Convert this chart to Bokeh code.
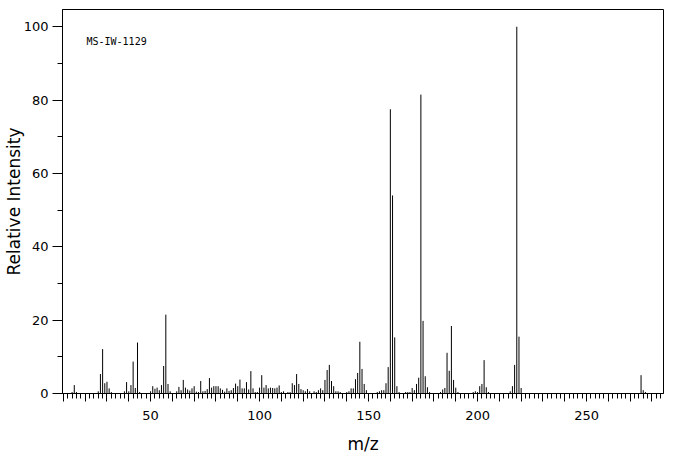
from bokeh.plotting import figure
from bokeh.models import Range1d, FixedTicker, CustomJSTickFormatter, Label
from bokeh.embed import file_html
from bokeh.resources import INLINE

mz = [14, 15, 16, 26, 27, 28, 29, 30, 31, 32, 38, 39, 40, 41, 42, 43, 44, 45,
      50, 51, 52, 53, 54, 55, 56, 57, 58, 59, 62, 63, 64, 65, 66, 67, 68, 69,
      70, 71, 72, 73, 74, 75, 76, 77, 78, 79, 80, 81, 82, 83, 84, 85, 86, 87,
      88, 89, 90, 91, 92, 93, 94, 95, 96, 97, 98, 99, 100, 101, 102, 103, 104,
      105, 106, 107, 108, 109, 110, 111, 113, 114, 115, 116, 117, 118, 119,
      120, 121, 122, 123, 125, 126, 127, 128, 129, 130, 131, 132, 133, 134,
      135, 136, 137, 140, 141, 142, 143, 144, 145, 146, 147, 148, 149, 154,
      155, 156, 157, 158, 159, 160, 161, 162, 163, 164, 167, 168, 169, 170,
      171, 172, 173, 174, 175, 176, 177, 178, 183, 184, 185, 186, 187, 188,
      189, 190, 191, 198, 199, 200, 201, 202, 203, 204, 205, 215, 216, 217,
      218, 219, 220, 275, 276, 277]
intensity = [0.4, 2.3, 0.4, 0.6, 5.3, 12.1, 2.8, 3.2, 1.4, 0.4, 0.6, 3.1, 0.6, 2.3, 8.7, 1.5, 13.9, 0.4,
             0.6, 2.0, 1.3, 1.6, 0.9, 2.3, 7.5, 21.5, 2.6, 0.6, 0.6, 1.8, 0.9, 3.7, 1.6, 1.1, 0.8, 1.4,
             2.0, 0.5, 0.4, 3.4, 0.6, 0.7, 1.2, 4.2, 1.6, 2.0, 2.0, 2.0, 1.4, 1.0, 0.5, 1.4, 0.7, 0.9,
             1.5, 2.7, 2.0, 3.8, 1.4, 1.4, 3.1, 1.1, 6.1, 1.4, 0.4, 0.4, 1.6, 5.0, 1.6, 2.3, 1.4,
             1.6, 1.5, 1.4, 1.6, 2.2, 0.4, 0.6, 0.4, 0.4, 2.8, 2.3, 5.3, 2.6, 1.2,
             0.9, 0.6, 1.2, 0.6, 0.6, 0.4, 0.9, 1.4, 0.9, 3.7, 6.4, 7.8, 3.4, 2.0,
             0.6, 0.6, 0.4, 0.4, 0.6, 1.4, 1.4, 3.9, 5.6, 14.1, 6.7, 2.6, 0.9, 0.4,
             0.6, 0.9, 0.9, 2.8, 7.2, 77.5, 54.0, 15.3, 2.0, 0.4, 0.4, 0.4, 0.4, 1.5,
             0.9, 2.6, 4.3, 81.5, 19.8, 4.7, 1.7, 0.4, 0.4, 1.1, 1.5, 11.1, 6.2, 18.4,
             3.7, 1.6, 0.4, 0.4, 0.6, 0.4, 2.0, 2.6, 9.1, 1.7, 0.4, 0.6, 2.0, 7.8,
             100.0, 15.5, 1.5, 5.0, 0.9, 0.4]

x_major = list(range(10, 290, 10))
x_minor = list(range(10, 286, 2))
y_major = [0, 20, 40, 60, 80, 100]
y_minor = [10, 30, 50, 70, 90]
title_text = "MS-IW-1129"
x_label = "m/z"
y_label = "Relative Intensity"

p = figure(frame_width=601, frame_height=384, output_backend="svg", toolbar_location=None,
           x_range=Range1d(9.6, 285.3), y_range=Range1d(0, 104.7),
           min_border_left=55, min_border_right=4, min_border_top=9, min_border_bottom=50,
           background_fill_color="white", border_fill_color="white")

p.segment(x0=mz, y0=[0] * len(mz), x1=mz, y1=intensity, line_color="black", line_width=1)

p.xgrid.visible = False
p.ygrid.visible = False
p.outline_line_color = "black"
p.outline_line_width = 1
p.outline_line_alpha = 1

xa = p.xaxis[0]
xa.ticker = FixedTicker(ticks=x_major, minor_ticks=x_minor)
xa.formatter = CustomJSTickFormatter(code="return (tick % 50 == 0) ? tick.toFixed(0) : '';")
xa.major_tick_out = 8
xa.major_tick_in = 0
xa.minor_tick_out = 5
xa.minor_tick_in = 0
xa.major_label_standoff = 9
xa.axis_label = x_label
xa.axis_label_standoff = 11

ya = p.yaxis[0]
ya.ticker = FixedTicker(ticks=y_major, minor_ticks=y_minor)
ya.major_tick_out = 10
ya.major_tick_in = 0
ya.minor_tick_out = 5
ya.minor_tick_in = 0
ya.major_label_standoff = 4
ya.axis_label = y_label
ya.axis_label_standoff = -3

for ax in (xa, ya):
    ax.axis_line_color = "black"
    ax.major_tick_line_color = "black"
    ax.minor_tick_line_color = "black"
    ax.major_label_text_font = "DejaVu Sans"
    ax.major_label_text_font_size = "13px"
    ax.major_label_text_color = "black"
    ax.axis_label_text_font = "DejaVu Sans"
    ax.axis_label_text_font_size = "17px"
    ax.axis_label_text_font_style = "normal"
    ax.axis_label_text_color = "black"

p.add_layout(Label(x=20.6, y=95.9, text=title_text, text_font="DejaVu Sans Mono",
                   text_font_size="10px", text_baseline="middle", text_color="black"))

open("out.html", "w").write(file_html(p, INLINE))
